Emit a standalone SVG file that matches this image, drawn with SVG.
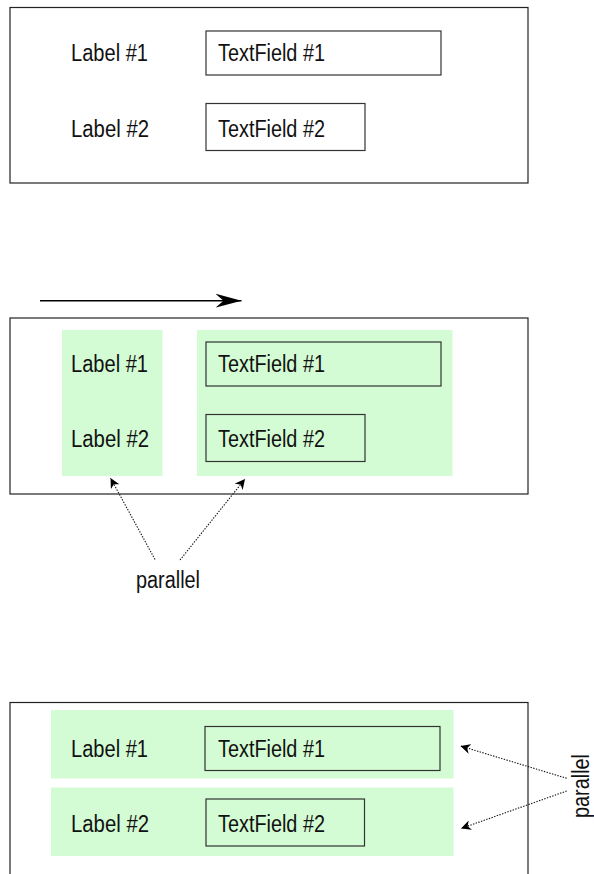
<svg xmlns="http://www.w3.org/2000/svg" width="594" height="874" viewBox="0 0 594 874">
<defs>
<style>
.frame{fill:none;stroke:#222;stroke-width:1.2}
.field{fill:none;stroke:#333;stroke-width:1.2}
.band{fill:#d4fcd4;stroke:none}
.t{font-family:"Liberation Sans",Arial,sans-serif;font-size:23px;fill:#111}
.dot{fill:none;stroke:#111;stroke-width:1.1;stroke-dasharray:1.4,1.4}
.solid{fill:none;stroke:#000;stroke-width:1.5}
</style>
<marker id="head" viewBox="0 0 10 10" refX="10" refY="5" markerWidth="10" markerHeight="10" markerUnits="userSpaceOnUse" orient="auto">
<path d="M0,0 L10,5 L0,10 L3,5 Z" fill="#000"/>
</marker>
<marker id="bighead" viewBox="0 0 26 14" refX="26" refY="7" markerWidth="26" markerHeight="14" markerUnits="userSpaceOnUse" orient="auto">
<path d="M0,0 L26,7 L0,14 L8,7 Z" fill="#000"/>
</marker>
</defs>
<rect width="594" height="874" fill="#fff"/>

<!-- Panel 1 -->
<g id="panel1">
<rect class="frame" x="10" y="7.5" width="518" height="175.5"/>
</g>
<g id="p1-label1"><text class="t" x="71" y="61" textLength="77" lengthAdjust="spacingAndGlyphs">Label #1</text></g>
<g id="p1-field1"><rect class="field" x="206" y="31" width="235" height="44"/><text class="t" x="218" y="61" textLength="107" lengthAdjust="spacingAndGlyphs">TextField #1</text></g>
<g id="p1-label2"><text class="t" x="71" y="137" textLength="78" lengthAdjust="spacingAndGlyphs">Label #2</text></g>
<g id="p1-field2"><rect class="field" x="206" y="103.5" width="159" height="47"/><text class="t" x="218" y="137" textLength="107" lengthAdjust="spacingAndGlyphs">TextField #2</text></g>

<!-- Panel 2 -->
<g id="panel2">
<rect class="frame" x="10" y="318" width="518" height="176"/>
</g>
<g id="p2-col1"><rect class="band" x="62" y="330" width="100.5" height="146"/></g>
<g id="p2-col2"><rect class="band" x="197" y="330" width="255.5" height="146"/></g>
<g id="p2-label1"><text class="t" x="71" y="372" textLength="77" lengthAdjust="spacingAndGlyphs">Label #1</text></g>
<g id="p2-field1"><rect class="field" x="206" y="342" width="235" height="44"/><text class="t" x="218" y="372" textLength="107" lengthAdjust="spacingAndGlyphs">TextField #1</text></g>
<g id="p2-label2"><text class="t" x="71" y="447" textLength="78" lengthAdjust="spacingAndGlyphs">Label #2</text></g>
<g id="p2-field2"><rect class="field" x="206" y="414.5" width="159" height="47"/><text class="t" x="218" y="447" textLength="107" lengthAdjust="spacingAndGlyphs">TextField #2</text></g>
<g id="p2-parallel"><text class="t" x="136" y="588" textLength="64" lengthAdjust="spacingAndGlyphs">parallel</text></g>

<!-- Panel 3 -->
<g id="panel3">
<rect class="frame" x="10" y="702.5" width="518" height="200"/>
</g>
<g id="p3-row1"><rect class="band" x="51" y="710" width="402.5" height="68.5"/></g>
<g id="p3-row2"><rect class="band" x="51" y="787.5" width="402.5" height="68.5"/></g>
<g id="p3-label1"><text class="t" x="71" y="757" textLength="77" lengthAdjust="spacingAndGlyphs">Label #1</text></g>
<g id="p3-field1"><rect class="field" x="205" y="726.5" width="235" height="44"/><text class="t" x="218" y="757" textLength="107" lengthAdjust="spacingAndGlyphs">TextField #1</text></g>
<g id="p3-label2"><text class="t" x="71" y="832" textLength="78" lengthAdjust="spacingAndGlyphs">Label #2</text></g>
<g id="p3-field2"><rect class="field" x="206" y="799" width="158.5" height="47"/><text class="t" x="218" y="832" textLength="107" lengthAdjust="spacingAndGlyphs">TextField #2</text></g>
<g id="p3-parallel"><text class="t" transform="translate(589,818) rotate(-90)" x="0" y="0" textLength="64" lengthAdjust="spacingAndGlyphs">parallel</text></g>

<!-- Connectors -->
<g id="connectors">
<line class="solid" x1="40" y1="300.7" x2="241.5" y2="300.7" marker-end="url(#bighead)"/>
<line class="dot" x1="155" y1="559.5" x2="110.5" y2="478" marker-end="url(#head)"/>
<line class="dot" x1="180" y1="560" x2="245" y2="479" marker-end="url(#head)"/>
<line class="dot" x1="566.7" y1="778.3" x2="460.5" y2="746" marker-end="url(#head)"/>
<line class="dot" x1="566.7" y1="791" x2="461" y2="828.5" marker-end="url(#head)"/>
</g>
</svg>
